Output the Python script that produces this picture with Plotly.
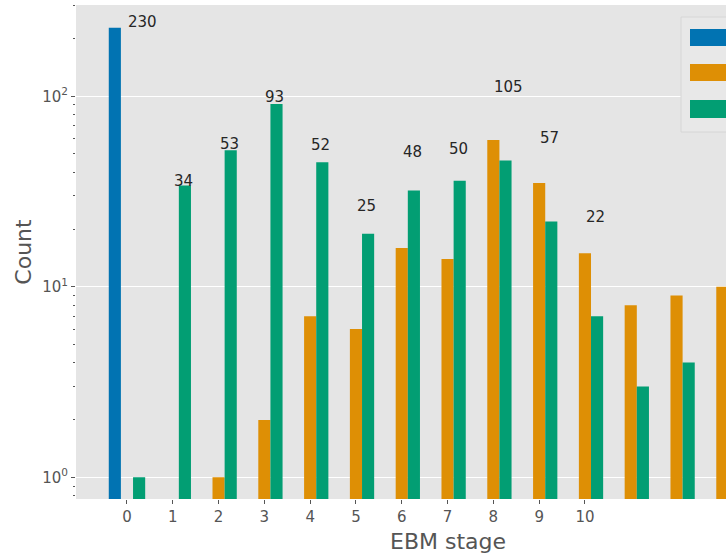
import math
import plotly.graph_objects as go

# Counts per EBM stage for the three diagnostic groups
stages = list(range(14))
group_a = [229, None, None, None, None, None, None, None, None, None, None, None, None, None]
group_b = [None, None, 1, 2, 7, 6, 16, 14, 59, 35, 15, 8, 9, 10]
group_c = [1, 34, 52, 91, 45, 19, 32, 36, 46, 22, 7, 3, 4, None]
tick_stages = list(range(11))

colors = ["#0173B2", "#DE8F05", "#029E73"]
names = ["CN", "AD", "MCI"]

W, H = 726, 556
L, R, T, B = 76, 0, 5, 57
PW, PH = W - L - R, H - T - B


def px_x(px):
    return (px - L) / PW


def px_y(py):
    return (H - B - py) / PH


fig = go.Figure()
for vals, col, nm in zip([group_a, group_b, group_c], colors, names):
    fig.add_trace(go.Bar(
        x=stages, y=vals, name=nm,
        marker=dict(color=col, line=dict(width=0)),
    ))

# total count above each labelled stage (annotation y is in log10 units on a log axis)
for s in tick_stages:
    total = sum(v or 0 for v in (group_a[s], group_b[s], group_c[s]))
    fig.add_annotation(
        x=s, y=math.log10(total), xref="x", yref="y", yshift=-6, xshift=-1,
        text=str(total), showarrow=False,
        xanchor="left", yanchor="bottom",
        font=dict(family="DejaVu Sans", size=15, color="#262626"),
    )

# legend frame and colour patches
fig.add_shape(type="rect", xref="paper", yref="paper",
              x0=px_x(681), x1=px_x(780), y0=px_y(132), y1=px_y(17),
              fillcolor="#e8e8e8", line=dict(color="#d6d6d6", width=1), layer="above")
for col, (y0, y1) in zip(colors, [(29, 46), (64, 81), (100, 118)]):
    fig.add_shape(type="rect", xref="paper", yref="paper",
                  x0=px_x(690), x1=px_x(740), y0=px_y(y1), y1=px_y(y0),
                  fillcolor=col, line=dict(width=0), layer="above")

fig.add_annotation(
    x=px_x(448), y=px_y(541), xref="paper", yref="paper",
    text="EBM stage", showarrow=False, xanchor="center", yanchor="middle",
    font=dict(family="DejaVu Sans", size=22, color="#555555"),
)

fig.update_layout(
    width=W, height=H,
    margin=dict(l=L, r=R, t=T, b=B),
    paper_bgcolor="white", plot_bgcolor="#e5e5e5",
    barmode="group", bargap=0.205, bargroupgap=0,
    showlegend=False,
    font=dict(family="DejaVu Sans", color="#555555"),
)
fig.update_xaxes(
    range=[-1.113, 13.08],
    tickvals=tick_stages, ticktext=[str(s) for s in tick_stages],
    ticks="outside", ticklen=4, tickwidth=1, tickcolor="#555555",
    tickfont=dict(size=15, color="#555555"),
    showgrid=False, zeroline=False, showline=False,
)
fig.update_yaxes(
    type="log", range=[-0.114, 2.479],
    tickvals=[1, 10, 100],
    ticktext=["10<sup>0</sup>", "10<sup>1</sup>", "10<sup>2</sup>"],
    ticks="outside", ticklen=4, tickwidth=1, tickcolor="#555555",
    tickfont=dict(size=15, color="#555555"),
    minor=dict(ticks="outside", ticklen=2, tickwidth=1, tickcolor="#555555",
               tickvals=[0.8, 0.9, 2, 3, 4, 5, 6, 7, 8, 9, 20, 30, 40, 50, 60, 70, 80, 90, 200, 300],
               showgrid=False),
    showgrid=True, gridcolor="white", gridwidth=1,
    zeroline=False, showline=False,
    title=dict(text="Count", font=dict(size=22, color="#555555"), standoff=4),
)

fig.write_html("out.html")
